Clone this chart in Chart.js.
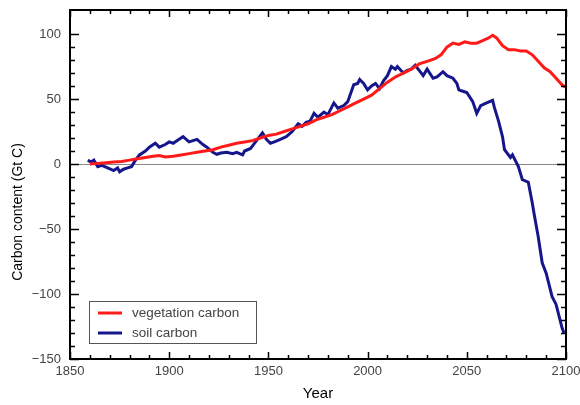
<!DOCTYPE html>
<html>
<head>
<meta charset="utf-8">
<script src="https://cdn.jsdelivr.net/npm/chart.js@4.4.0/dist/chart.umd.min.js"></script>
<style>
  html, body { margin: 0; padding: 0; background: #fff; }
  #wrap { width: 580px; height: 405px; }
</style>
</head>
<body>
<div id="wrap"><canvas id="chart" width="580" height="405"></canvas></div>
<script>
// Values (Gt C)
var vegYears = [1860, 1864, 1868, 1872, 1876, 1880, 1884, 1888, 1892, 1895, 1898, 1902, 1906, 1910, 1914, 1918, 1922, 1926, 1930, 1934, 1938, 1942, 1946, 1950, 1954, 1958, 1962, 1966, 1970, 1974, 1978, 1982, 1986, 1990, 1994, 1998, 2002, 2006, 2010, 2014, 2018, 2022, 2026, 2030, 2034, 2037, 2040, 2043, 2046, 2049, 2052, 2055, 2058, 2061, 2063, 2065, 2068, 2071, 2074, 2077, 2080, 2083, 2086, 2089, 2092, 2095, 2098, 2100];
var vegCarbon = [0, 0.5, 1, 1.5, 2, 3, 4, 5, 6, 6.5, 5.5, 6, 7, 8, 9, 10, 11, 13, 14.5, 16, 17, 18, 20, 22, 23, 25, 27, 29, 31, 34, 36, 38, 41, 44, 47, 50, 53, 58, 63, 67, 70, 73, 77, 79, 81, 84, 90, 93, 92, 94, 93, 93, 95, 97, 99, 97, 91, 88, 88, 87, 87, 84, 79, 74, 71, 66, 61, 59];

var soilYears = [1859, 1860, 1861, 1862, 1864, 1866, 1869, 1872, 1874, 1875, 1877, 1879, 1881, 1883, 1885, 1888, 1890, 1892, 1893, 1895, 1898, 1900, 1902, 1905, 1907, 1910, 1912, 1914, 1917, 1919, 1922, 1924, 1926, 1929, 1932, 1934, 1937, 1938, 1941, 1944, 1947, 1949, 1951, 1953, 1956, 1959, 1962, 1965, 1967, 1969, 1971, 1973, 1975, 1978, 1980, 1983, 1985, 1988, 1990, 1993, 1995, 1996, 1998, 2000, 2002, 2004, 2006, 2008, 2010, 2012, 2014, 2015, 2018, 2020, 2022, 2024, 2026, 2028, 2030, 2033, 2035, 2038, 2040, 2043, 2045, 2046, 2048, 2050, 2053, 2055, 2057, 2060, 2063, 2064, 2066, 2068, 2069, 2072, 2073, 2076, 2078, 2081, 2083, 2084, 2086, 2088, 2090, 2093, 2095, 2098, 2099];
var soilCarbon = [3, 2, 2, 3, -2, -1, -3, -5, -3, -6, -4, -3, -2, 3, 7, 10, 13, 15, 16, 13, 15, 17, 16, 19, 21, 17, 18, 19, 15, 13, 9, 7.5, 8.5, 9, 8, 9, 7, 10, 12, 18, 24, 19, 16, 17, 19, 21, 25, 31, 29, 32, 33, 39, 36, 40, 38, 47, 43, 45, 48, 61, 62, 65, 62, 57, 60, 62, 58, 64, 68, 75, 73, 75, 70, 72, 73, 76, 72, 68, 73, 66, 67, 71, 68, 66, 62, 57, 56, 55, 48, 39, 45, 47, 49, 43, 33, 21, 11, 5, 7, -2, -12, -14, -30, -39, -56, -76, -84, -102, -108, -126, -130];

var seriesNames = ['vegetation carbon', 'soil carbon'];
var seriesColors = ['#ff1a1a', '#16168c'];
var yearLabels = [1850, 1900, 1950, 2000, 2050, 2100];
var carbonLabels = [-150, -100, -50, 0, 50, 100];

function toPoints(xs, ys) {
    var pts = [];
    for (var i = 0; i < xs.length; i++) {
        pts.push({ x: xs[i], y: ys[i] });
    }
    return pts;
}

var fontFamily = '"Liberation Sans", Arial, sans-serif';

// Frame, inward tick marks, y title and boxed legend
var decorations = {
    id: 'decorations',
    afterDraw: function (chart) {
        var ctx = chart.ctx;
        var area = chart.chartArea;
        var xs = chart.scales.x;
        var ys = chart.scales.y;
        ctx.save();
        ctx.strokeStyle = '#000';
        ctx.lineWidth = 1.5;

        // y ticks, both sides
        ys.ticks.forEach(function (t) {
            if (t.value % 10 !== 0) return;
            var major = carbonLabels.indexOf(t.value) >= 0;
            var len = major ? 9 : 5;
            var py = Math.round(ys.getPixelForValue(t.value)) + 0.5;
            ctx.beginPath();
            ctx.moveTo(area.left, py); ctx.lineTo(area.left + len, py);
            ctx.moveTo(area.right, py); ctx.lineTo(area.right - len, py);
            ctx.stroke();
        });
        // x ticks, top and bottom
        xs.ticks.forEach(function (t) {
            if (t.value % 10 !== 0) return;
            var major = yearLabels.indexOf(t.value) >= 0;
            var len = major ? 7 : 4;
            var px = Math.round(xs.getPixelForValue(t.value)) + 0.5;
            ctx.beginPath();
            ctx.moveTo(px, area.bottom); ctx.lineTo(px, area.bottom - len);
            ctx.moveTo(px, area.top); ctx.lineTo(px, area.top + len);
            ctx.stroke();
        });
        ctx.lineWidth = 2;
        ctx.strokeRect(area.left, area.top, area.right - area.left, area.bottom - area.top);

        // y axis title
        ctx.fillStyle = '#000';
        ctx.font = '14px ' + fontFamily;
        ctx.textAlign = 'center';
        ctx.textBaseline = 'middle';
        ctx.translate(18, 212);
        ctx.rotate(-Math.PI / 2);
        ctx.fillText('Carbon content (Gt C)', 0, 0);
        ctx.restore();

        // legend box
        ctx.save();
        ctx.fillStyle = '#fff';
        ctx.fillRect(89, 301, 167, 42);
        ctx.strokeStyle = '#555';
        ctx.lineWidth = 1;
        ctx.strokeRect(89.5, 301.5, 167, 42);
        ctx.font = '13.5px ' + fontFamily;
        ctx.textAlign = 'left';
        ctx.textBaseline = 'middle';
        chart.data.datasets.forEach(function (ds, i) {
            var ly = 313 + i * 20;
            ctx.strokeStyle = ds.borderColor;
            ctx.lineWidth = 3;
            ctx.beginPath();
            ctx.moveTo(98, ly); ctx.lineTo(122, ly);
            ctx.stroke();
            ctx.fillStyle = '#444';
            ctx.fillText(ds.label, 132, ly);
        });
        ctx.restore();
    }
};

new Chart(document.getElementById('chart'), {
    type: 'line',
    data: {
        datasets: [
            {
                label: seriesNames[0],
                data: toPoints(vegYears, vegCarbon),
                borderColor: seriesColors[0],
                borderWidth: 3,
                pointRadius: 0,
                tension: 0
            },
            {
                label: seriesNames[1],
                data: toPoints(soilYears, soilCarbon),
                borderColor: seriesColors[1],
                borderWidth: 3,
                pointRadius: 0,
                tension: 0
            }
        ]
    },
    options: {
        responsive: false,
        animation: false,
        devicePixelRatio: 1,
        layout: { padding: { top: 10, right: 14, left: 0, bottom: 0 } },
        plugins: {
            legend: { display: false },
            tooltip: { enabled: false }
        },
        scales: {
            x: {
                type: 'linear',
                min: 1850,
                max: 2100,
                afterFit: function (scale) {
                    scale.height = 46;
                    scale.paddingLeft = 0;
                    scale.paddingRight = 0;
                },
                border: { display: false },
                grid: { drawOnChartArea: false, drawTicks: false },
                ticks: {
                    stepSize: 10,
                    autoSkip: false,
                    maxRotation: 0,
                    padding: 5,
                    color: '#444',
                    font: { size: 13, family: fontFamily },
                    callback: function (v) { return yearLabels.indexOf(v) >= 0 ? String(v) : ''; }
                },
                title: {
                    display: true,
                    text: 'Year',
                    color: '#000',
                    font: { size: 15, family: fontFamily },
                    padding: { top: 0, bottom: 2 }
                }
            },
            y: {
                min: -150,
                max: 118.5,
                afterFit: function (scale) {
                    scale.width = 70;
                    scale.paddingTop = 0;
                    scale.paddingBottom = 0;
                },
                border: { display: false },
                grid: {
                    drawTicks: false,
                    lineWidth: 1,
                    color: function (c) { return c.tick && c.tick.value === 0 ? '#888' : 'rgba(0,0,0,0)'; }
                },
                ticks: {
                    stepSize: 10,
                    autoSkip: false,
                    padding: 9,
                    color: '#444',
                    font: { size: 13, family: fontFamily },
                    callback: function (v) {
                        return carbonLabels.indexOf(v) >= 0 ? String(v).replace('-', '\u2212') : '';
                    }
                }
            }
        }
    },
    plugins: [decorations]
});
</script>
</body>
</html>
